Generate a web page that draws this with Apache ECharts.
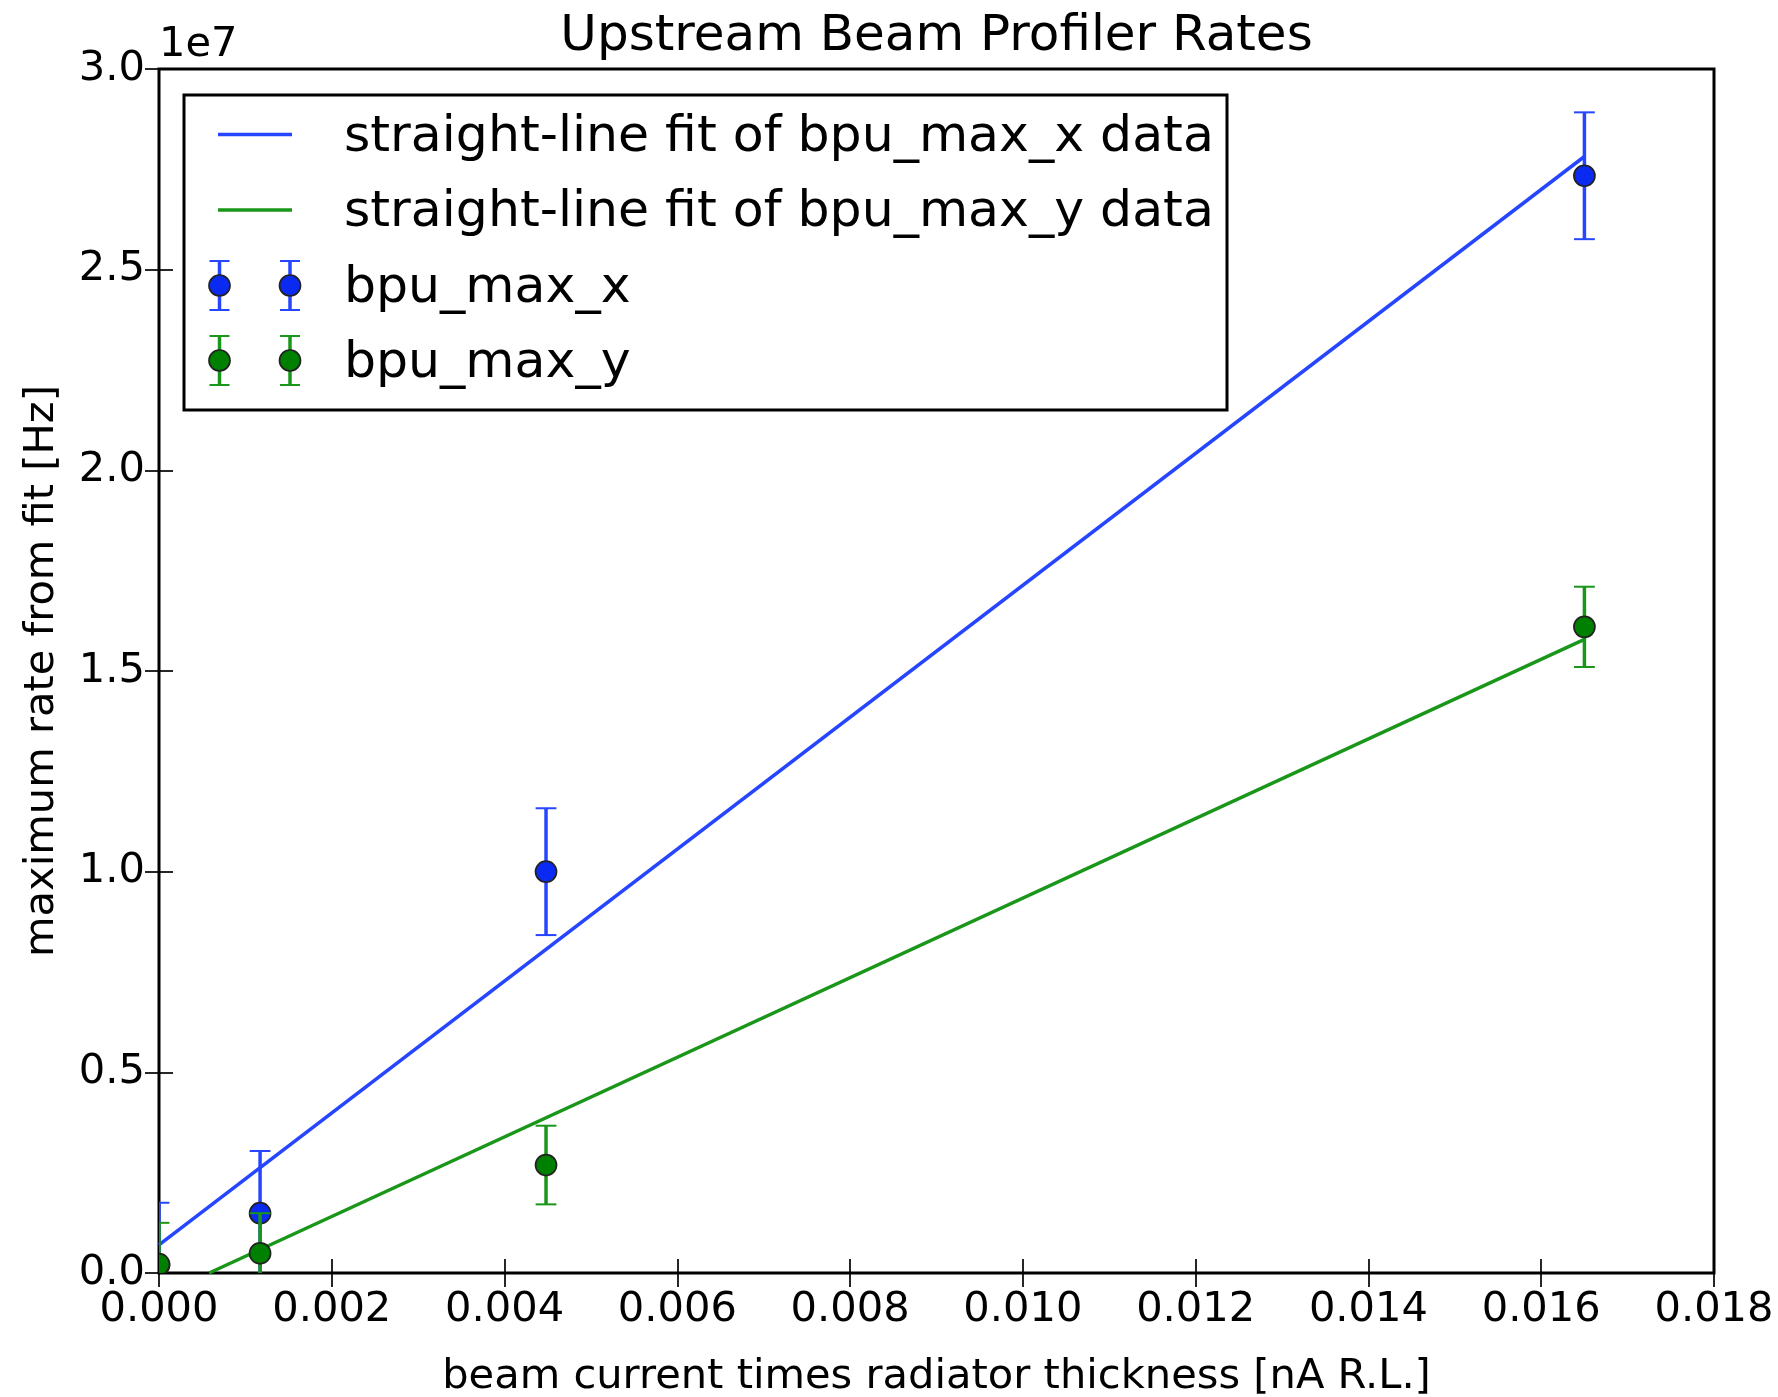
<!DOCTYPE html>
<html>
<head>
<meta charset="utf-8">
<title>Upstream Beam Profiler Rates</title>
<script src="https://cdn.jsdelivr.net/npm/echarts@6/dist/echarts.min.js"></script>
<style>
  html, body { margin: 0; padding: 0; background: #fff; }
  #chart { width: 1778px; height: 1397px; }
</style>
</head>
<body>
<div id="chart"></div>
<script>
const titleText = "Upstream Beam Profiler Rates";
const xName = "beam current times radiator thickness [nA R.L.]";
const yName = "maximum rate from fit [Hz]";
const yOffsetText = "1e7";

// measured points (x = beam current * radiator thickness, y = rate in Hz)
const xValues = [0, 0.00117, 0.00448, 0.0165];
const bpuMaxX = [0.2e6, 1.49e6, 10.0e6, 27.34e6];
const bpuMaxXErr = [1.55e6, 1.55e6, 1.58e6, 1.58e6];
const bpuMaxY = [0.22e6, 0.49e6, 2.69e6, 16.1e6];
const bpuMaxYErr = [1.03e6, 1.0e6, 0.98e6, 1.0e6];

// straight-line fits, end points
const fitXLineX = [0, 0.0165];
const fitXLineY = [0.70e6, 27.82e6];
const fitYLineX = [0.00058, 0.0165];
const fitYLineY = [0, 15.79e6];

const seriesNames = [
  "straight-line fit of bpu_max_x data",
  "straight-line fit of bpu_max_y data",
  "bpu_max_x",
  "bpu_max_y"
];

const xTicks = { min: 0, max: 0.018, interval: 0.002 };
const yTicks = { min: 0, max: 3.0e7, interval: 0.5e7 };

const FONT = "DejaVu Sans";
const BLUE_LINE = "#2645ff";
const BLUE_MARK = "#0a2af2";
const GREEN_LINE = "#1a961a";
const GREEN_MARK = "#008000";

const grid = { left: 159, right: 64, top: 69, bottom: 124 };

const chart = echarts.init(document.getElementById("chart"), null, { renderer: "canvas" });

function zip(a, b, c) {
  return a.map((v, i) => (c ? [v, b[i], c[i]] : [v, b[i]]));
}

// error bar + marker, clipped to the plot area by the series
function errorPoint(lineColor, markColor) {
  return function (params, api) {
    const x = api.value(0);
    const y = api.value(1);
    const e = api.value(2);
    const top = api.coord([x, y + e]);
    const mid = api.coord([x, y]);
    const bottom = api.coord([x, y - e]);
    const lw = 3.5;
    const capW = 2;
    const half = 10.4;
    return {
      type: "group",
      children: [
        { type: "rect", shape: { x: top[0] - lw / 2, y: top[1], width: lw, height: bottom[1] - top[1] }, style: { fill: lineColor } },
        { type: "rect", shape: { x: top[0] - half, y: top[1] - capW / 2, width: half * 2, height: capW }, style: { fill: lineColor } },
        { type: "rect", shape: { x: bottom[0] - half, y: bottom[1] - capW / 2, width: half * 2, height: capW }, style: { fill: lineColor } },
        { type: "circle", shape: { cx: mid[0], cy: mid[1], r: 10.5 }, style: { fill: markColor, stroke: "#222", lineWidth: 1.7 } }
      ]
    };
  };
}

// legend drawn by hand so the error-bar handles look like the original
const legendBox = { x: 184, y: 95, width: 1043, height: 315 };
const legendRows = [134.5, 210, 285.5, 360.5];
const legendTextX = 344;

function errHandle(cx, cy, lineColor, markColor) {
  return [
    { type: "rect", shape: { x: cx - 1.75, y: cy - 24.5, width: 3.5, height: 49 }, style: { fill: lineColor } },
    { type: "rect", shape: { x: cx - 10, y: cy - 25.5, width: 20, height: 2 }, style: { fill: lineColor } },
    { type: "rect", shape: { x: cx - 10, y: cy + 23.5, width: 20, height: 2 }, style: { fill: lineColor } },
    { type: "circle", shape: { cx, cy, r: 10.5 }, style: { fill: markColor, stroke: "#222", lineWidth: 1.7 } }
  ];
}

const legendChildren = [
  {
    type: "rect",
    shape: legendBox,
    style: { fill: "#fff", stroke: "#000", lineWidth: 3 }
  },
  { type: "rect", shape: { x: 218, y: legendRows[0] - 1.75, width: 74, height: 3.5 }, style: { fill: BLUE_LINE } },
  { type: "rect", shape: { x: 218, y: legendRows[1] - 1.75, width: 74, height: 3.5 }, style: { fill: GREEN_LINE } },
  ...errHandle(219.5, legendRows[2], BLUE_LINE, BLUE_MARK),
  ...errHandle(290, legendRows[2], BLUE_LINE, BLUE_MARK),
  ...errHandle(219.5, legendRows[3], GREEN_LINE, GREEN_MARK),
  ...errHandle(290, legendRows[3], GREEN_LINE, GREEN_MARK)
];
seriesNames.forEach((name, i) => {
  legendChildren.push({
    type: "text",
    x: legendTextX,
    y: legendRows[i] + 3,
    style: {
      text: name,
      font: `50.5px "${FONT}"`,
      fill: "#000",
      textAlign: "left",
      textVerticalAlign: "middle"
    }
  });
});

const tickStyle = { show: true, inside: true, length: 14, lineStyle: { color: "#000", width: 1.7 } };
const labelStyle = { color: "#000", fontFamily: FONT, fontSize: 41.6 };

const option = {
  animation: false,
  backgroundColor: "#fff",
  textStyle: { fontFamily: FONT },
  grid: {
    ...grid,
    show: true,
    borderColor: "#000",
    borderWidth: 3,
    backgroundColor: "transparent",
    containLabel: false,
    outerBoundsMode: "none"
  },
  xAxis: [
    {
      type: "value",
      position: "bottom",
      ...xTicks,
      name: xName,
      nameLocation: "middle",
      nameGap: 83,
      nameTextStyle: { ...labelStyle },
      axisLine: { show: false },
      axisTick: tickStyle,
      splitLine: { show: false },
      axisLabel: { ...labelStyle, margin: 16, formatter: (v) => v.toFixed(3), showMinLabel: true, showMaxLabel: true }
    },
    {
      type: "value",
      position: "top",
      ...xTicks,
      axisLine: { show: false },
      axisTick: tickStyle,
      splitLine: { show: false },
      axisLabel: { show: false }
    }
  ],
  yAxis: [
    {
      type: "value",
      position: "left",
      ...yTicks,
      name: yName,
      nameLocation: "middle",
      nameGap: 96,
      nameRotate: 90,
      nameTextStyle: { ...labelStyle },
      axisLine: { show: false },
      axisTick: tickStyle,
      splitLine: { show: false },
      axisLabel: { ...labelStyle, margin: 14, formatter: (v) => (v / 1e7).toFixed(1), showMinLabel: true, showMaxLabel: true }
    },
    {
      type: "value",
      position: "right",
      ...yTicks,
      axisLine: { show: false },
      axisTick: tickStyle,
      splitLine: { show: false },
      axisLabel: { show: false }
    }
  ],
  series: [
    {
      name: seriesNames[0],
      type: "line",
      data: zip(fitXLineX, fitXLineY),
      symbol: "none",
      clip: true,
      z: 2,
      lineStyle: { color: BLUE_LINE, width: 3.5 },
      itemStyle: { color: BLUE_LINE }
    },
    {
      name: seriesNames[1],
      type: "line",
      data: zip(fitYLineX, fitYLineY),
      symbol: "none",
      clip: true,
      z: 3,
      lineStyle: { color: GREEN_LINE, width: 3.5 },
      itemStyle: { color: GREEN_LINE }
    },
    {
      name: seriesNames[2],
      type: "custom",
      data: zip(xValues, bpuMaxX, bpuMaxXErr),
      renderItem: errorPoint(BLUE_LINE, BLUE_MARK),
      encode: { x: 0, y: 1 },
      clip: true,
      z: 4
    },
    {
      name: seriesNames[3],
      type: "custom",
      data: zip(xValues, bpuMaxY, bpuMaxYErr),
      renderItem: errorPoint(GREEN_LINE, GREEN_MARK),
      encode: { x: 0, y: 1 },
      clip: true,
      z: 5
    }
  ],
  graphic: [
    {
      type: "text",
      x: 936.5,
      y: 37,
      z: 10,
      style: {
        text: titleText,
        font: `50px "${FONT}"`,
        fill: "#000",
        textAlign: "center",
        textVerticalAlign: "middle"
      }
    },
    {
      type: "text",
      x: 159,
      y: 45,
      z: 10,
      style: {
        text: yOffsetText,
        font: `41.6px "${FONT}"`,
        fill: "#000",
        textAlign: "left",
        textVerticalAlign: "middle"
      }
    },
    {
      type: "group",
      z: 20,
      children: legendChildren
    }
  ]
};

chart.setOption(option);
window.addEventListener("resize", () => chart.resize());
</script>
</body>
</html>
